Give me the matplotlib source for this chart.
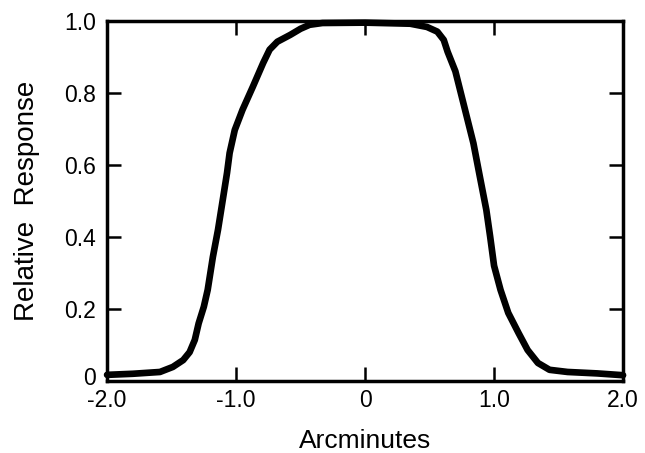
import numpy as np
import matplotlib.pyplot as plt
import matplotlib.transforms as mtransforms

plt.rcParams['font.family'] = ['Liberation Sans', 'DejaVu Sans']

# response profile
arcmin = [-2.0, -1.8, -1.59, -1.49, -1.41, -1.36, -1.32, -1.29, -1.25, -1.22,
          -1.18, -1.14, -1.10, -1.07, -1.05, -1.01, -0.95, -0.87, -0.79, -0.74,
          -0.68, -0.58, -0.50, -0.43, -0.33, 0.0, 0.35, 0.48, 0.56, 0.61,
          0.64, 0.70, 0.775, 0.84, 0.89, 0.94, 0.97, 1.00, 1.05,
          1.11, 1.19, 1.26, 1.34, 1.43, 1.57, 1.80, 2.0]
response = [0.017, 0.020, 0.025, 0.039, 0.058, 0.080, 0.114, 0.160, 0.206, 0.253,
            0.344, 0.42, 0.51, 0.578, 0.633, 0.697, 0.753, 0.817, 0.883, 0.920,
            0.942, 0.961, 0.978, 0.989, 0.994, 0.995, 0.992, 0.983, 0.970, 0.947,
            0.914, 0.860, 0.753, 0.660, 0.567, 0.475, 0.400, 0.320, 0.253,
            0.189, 0.133, 0.086, 0.050, 0.031, 0.025, 0.021, 0.016]

xticks = [-2.0, -1.0, 0.0, 1.0, 2.0]
xlabels = ['-2.0', '-1.0', '0', '1.0', '2.0']
yticks = [0.0, 0.2, 0.4, 0.6, 0.8, 1.0]
ylabels = ['0', '0.2', '0.4', '0.6', '0.8', '1.0']

fig = plt.figure(figsize=(6.45, 4.53), dpi=100)
ax = fig.add_axes([0.166, 0.159, 0.800, 0.795])

ax.plot(arcmin, response, color='black', lw=4.8, solid_joinstyle='round',
        solid_capstyle='round', clip_on=False, zorder=3)

ax.set_xlim(-2.0, 2.0)
ax.set_ylim(0.0, 1.0)
ax.set_xticks(xticks)
ax.set_xticklabels(xlabels)
ax.set_yticks(yticks)
ax.set_yticklabels(ylabels)

for s in ax.spines.values():
    s.set_linewidth(2.5)
ax.tick_params(direction='in', length=10, width=1.8, labelsize=16.5,
               top=True, right=True)
ax.tick_params(axis='x', pad=6)
ax.tick_params(axis='y', pad=8)
# the zero label sits a little higher than the axis on the reference
lab0 = ax.get_yticklabels()[0]
lab0.set_transform(lab0.get_transform() +
                   mtransforms.ScaledTranslation(0, 5 / 100, fig.dpi_scale_trans))

ax.set_xlabel('Arcminutes', fontsize=19, labelpad=12)
ax.set_ylabel('Relative  Response', fontsize=20, labelpad=17)

fig.savefig('out.png', dpi=100)
